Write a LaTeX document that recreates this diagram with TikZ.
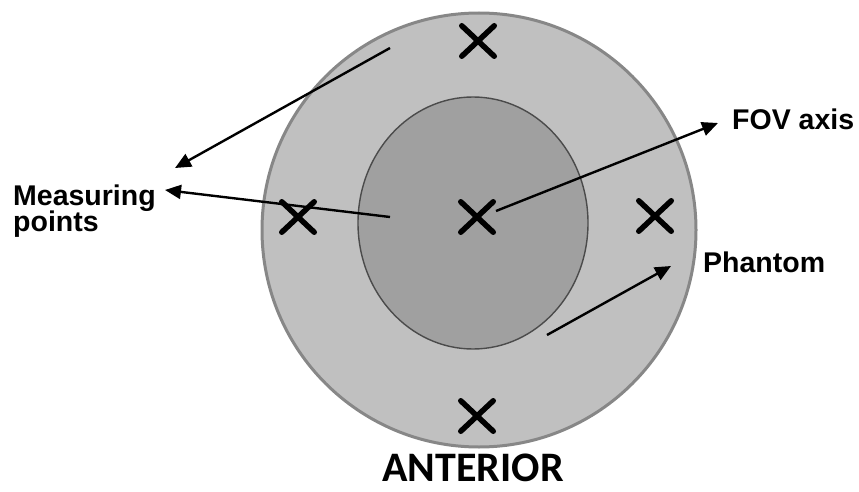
\documentclass[tikz,border=0pt]{standalone}
\usepackage{fontspec}
\setmainfont{Liberation Sans}
\newfontfamily\antfont{Carlito}
\usetikzlibrary{arrows.meta,shapes.misc}
\definecolor{phout}{RGB}{192,192,192}
\definecolor{phedge}{RGB}{135,135,135}
\definecolor{fovin}{RGB}{160,160,160}
\definecolor{fovedge}{RGB}{75,75,75}

\begin{document}
\begin{tikzpicture}[x=1pt, y=-1pt,
  label/.style={font=\fontsize{28.5}{30}\selectfont\bfseries, inner sep=0pt},
  mpoint/.style={cross out, draw, line width=5.5pt, line cap=round,
    minimum width=27pt, minimum height=25pt, inner sep=0pt},
  pointer/.style={line width=2.4pt, -{Triangle[length=16pt, width=14pt]}}]
\useasboundingbox (0,0) rectangle (859,492);
% phantom and field of view
\draw[line width=3pt, phedge, fill=phout] (479,230) circle[radius=217pt];
\draw[line width=1.4pt, fovedge, fill=fovin] (473,223)
  ellipse[x radius=115pt, y radius=126pt];
% measuring points
\node[mpoint] (ptop) at (478,41) {};
\node[mpoint] (pleft) at (298,217) {};
\node[mpoint] (pmid) at (477,217) {};
\node[mpoint] (pright) at (655,216) {};
\node[mpoint] (pbot) at (477,416) {};
% labels
\node[label, anchor=base west] (meas) at (13,205) {Measuring};
\node[label, anchor=base west] (meas2) at (13,231) {points};
\node[label, anchor=base west] (fov) at (732,129) {FOV axis};
\node[label, anchor=base west] (phan) at (703,272) {Phantom};
\node[font=\fontsize{42}{44}\selectfont\antfont\bfseries, inner sep=0pt,
  anchor=base] (ant) at (473,481) {ANTERIOR};
% arrow ends
\coordinate (s1) at (390,48);
\coordinate (t1) at (175,168);
\coordinate (s2) at (390,217);
\coordinate (t2) at (165,190);
\coordinate (s3) at (496,211);
\coordinate (t3) at (718,123);
\coordinate (s4) at (547,335);
\coordinate (t4) at (671,266);
\foreach \a in {1,...,4}
  \draw[pointer] (s\a) -- (t\a);
\end{tikzpicture}
\end{document}
